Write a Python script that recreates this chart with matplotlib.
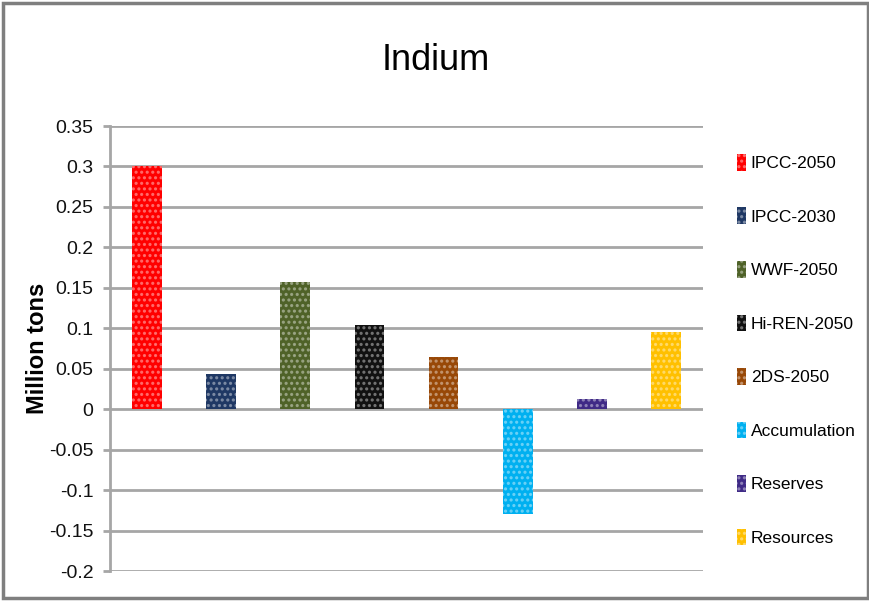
import matplotlib
matplotlib.use("Agg")
import matplotlib.pyplot as plt
from matplotlib.patches import Patch, Rectangle

plt.rcParams["font.family"] = ["Liberation Sans", "DejaVu Sans"]
plt.rcParams["hatch.linewidth"] = 1.5

scenarios = ["IPCC-2050", "IPCC-2030", "WWF-2050", "Hi-REN-2050", "2DS-2050",
             "Accumulation", "Reserves", "Resources"]
values = [0.300, 0.043, 0.157, 0.104, 0.065, -0.129, 0.012, 0.095]
colors = ["#FF0000", "#1F3864", "#4F6228", "#111111", "#984807",
          "#00B0F0", "#3F2A86", "#FFC000"]
yticks = [-0.2, -0.15, -0.1, -0.05, 0, 0.05, 0.1, 0.15, 0.2, 0.25, 0.3, 0.35]
ytick_labels = ["-0.2", "-0.15", "-0.1", "-0.05", "0", "0.05", "0.1", "0.15",
                "0.2", "0.25", "0.3", "0.35"]

GRID = "#A6A6A6"
DOTS = (1, 1, 1, 0.4)

fig = plt.figure(figsize=(8.7, 6.01), dpi=100)
ax = fig.add_axes([110 / 870, 1 - 571 / 601, 593 / 870, 445 / 601])

x = list(range(len(values)))
ax.bar(x, values, width=0.4, color=colors, edgecolor=DOTS, linewidth=0,
       hatch="...", zorder=3)

ax.set_xlim(-0.5, len(values) - 0.5)
ax.set_ylim(-0.2, 0.35)
ax.set_yticks(yticks)
ax.set_yticklabels(ytick_labels, fontsize=14, color="#111111")
ax.set_xticks([])
ax.grid(axis="y", color=GRID, linewidth=2, zorder=0)
ax.tick_params(axis="y", length=5, width=2, color=GRID, pad=7)
for side in ("top", "right", "bottom"):
    ax.spines[side].set_visible(False)
ax.spines["left"].set_color(GRID)
ax.spines["left"].set_linewidth(2)

ax.set_ylabel("Million tons", fontsize=17, fontweight="bold")
ax.yaxis.set_label_coords((49 - 110) / 593, 0.5)
fig.text(436 / 870, 1 - 60 / 601, "Indium", fontsize=26, ha="center", va="center")

handles = [Patch(facecolor=c, edgecolor=DOTS, linewidth=0, hatch="...") for c in colors]
fig.legend(handles, scenarios, loc="upper left", bbox_to_anchor=(730 / 870, 1 - 147 / 601),
           frameon=False, fontsize=12.5, handlelength=0.5, handleheight=1.1,
           handletextpad=0.3, labelspacing=2.09, borderaxespad=0)

# outer frame around the whole chart
fig.add_artist(Rectangle((3 / 870, 3 / 601), 865 / 870, 595 / 601, transform=fig.transFigure,
                         fill=False, edgecolor="#7F7F7F", linewidth=2.5))

fig.savefig("out.png", dpi=100)
